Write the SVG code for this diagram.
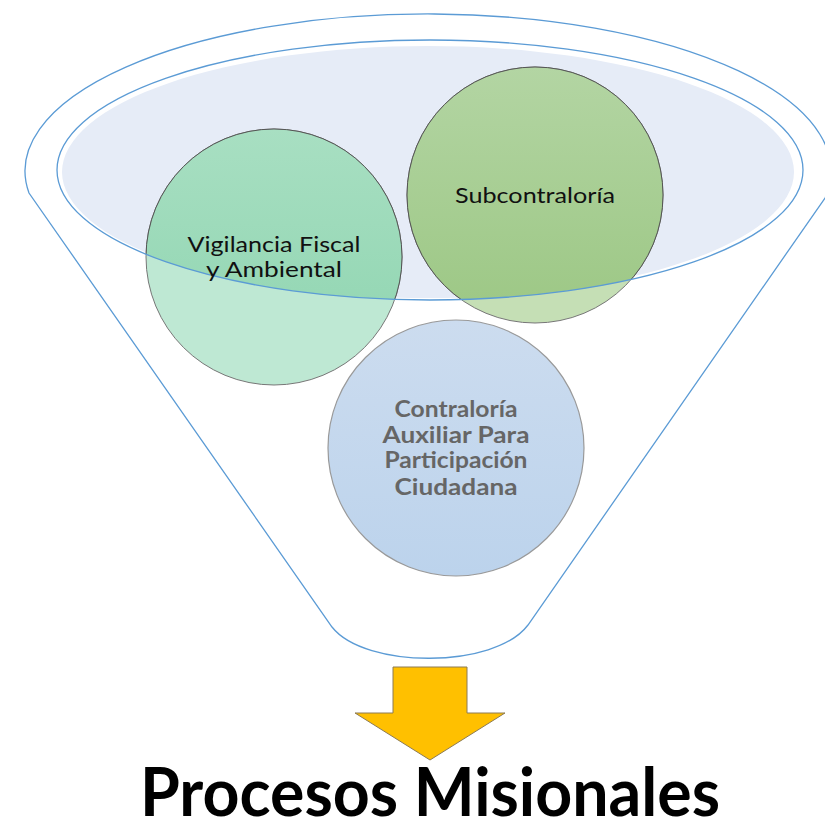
<svg xmlns="http://www.w3.org/2000/svg" width="825" height="829" viewBox="0 0 825 829">
  <style>
    .funnel { fill: none; stroke: #5B9BD5; stroke-width: 1.3; }
    .lbl { font-family: Lato, "Open Sans", "Liberation Sans", sans-serif; font-size: 22px; text-anchor: middle; }
    .dark { fill: #111; }
    .gray { fill: #666; font-weight: bold; }
    .title { font-family: Lato, "Open Sans", "Liberation Sans", sans-serif; font-size: 66px; font-weight: bold; fill: #000; }
  </style>
  <defs>
    <clipPath id="inner">
      <ellipse cx="430" cy="170" rx="373" ry="130"/>
    </clipPath>
    <linearGradient id="gLeft" x1="0" y1="0" x2="0" y2="1">
      <stop offset="0" stop-color="#A8DFC2"/>
      <stop offset="1" stop-color="#8DD4AF"/>
    </linearGradient>
    <linearGradient id="gSub" x1="0" y1="0" x2="0" y2="1">
      <stop offset="0" stop-color="#B3D5A3"/>
      <stop offset="1" stop-color="#9CC784"/>
    </linearGradient>
    <linearGradient id="gBlue" x1="0" y1="0" x2="0" y2="1">
      <stop offset="0" stop-color="#CCDCEF"/>
      <stop offset="1" stop-color="#BCD3EC"/>
    </linearGradient>
  </defs>

  <g id="funnel">
    <path class="funnel" d="M 29 193 A 403 157 0 1 1 825 198 L 528 625 C 495 669 365 669 332 627 Z"/>
    <ellipse cx="428" cy="172" rx="366" ry="126" fill="#E6ECF7"/>
  </g>

  <g id="node-vigilancia">
    <circle cx="274" cy="257" r="128" fill="#BEE8D3" stroke="#777" stroke-width="1"/>
    <circle cx="274" cy="257" r="128" fill="url(#gLeft)" stroke="#555" stroke-width="1" clip-path="url(#inner)"/>
  </g>
  <g id="node-subcontraloria">
    <circle cx="535" cy="195" r="128" fill="#C5DFB5" stroke="#777" stroke-width="1"/>
    <circle cx="535" cy="195" r="128" fill="url(#gSub)" stroke="#555" stroke-width="1" clip-path="url(#inner)"/>
  </g>
  <g id="node-contraloria-auxiliar">
    <circle cx="456" cy="448" r="128" fill="url(#gBlue)" stroke="#999" stroke-width="1.2"/>
  </g>

  <g id="inner-rim">
    <ellipse class="funnel" cx="430" cy="170" rx="373" ry="130"/>
  </g>

  <g id="labels">
    <text class="lbl dark" x="274" y="252" textLength="173" lengthAdjust="spacingAndGlyphs">Vigilancia Fiscal</text>
    <text class="lbl dark" x="274" y="277" textLength="136" lengthAdjust="spacingAndGlyphs">y Ambiental</text>
    <text class="lbl dark" x="535" y="203" textLength="160" lengthAdjust="spacingAndGlyphs">Subcontraloría</text>
    <text class="lbl gray" x="456" y="417" textLength="123" lengthAdjust="spacingAndGlyphs">Contraloría</text>
    <text class="lbl gray" x="456" y="443" textLength="147" lengthAdjust="spacingAndGlyphs">Auxiliar Para</text>
    <text class="lbl gray" x="456" y="468" textLength="143" lengthAdjust="spacingAndGlyphs">Participación</text>
    <text class="lbl gray" x="456" y="495" textLength="123" lengthAdjust="spacingAndGlyphs">Ciudadana</text>
  </g>

  <g id="connectors">
    <polygon points="393,667 467,667 467,713 505,713 430,760 355,713 393,713" fill="#FFC000" stroke="#8C7B55" stroke-width="1"/>
  </g>

  <g id="node-title">
    <text class="title" x="140" y="816" textLength="580" lengthAdjust="spacingAndGlyphs">Procesos Misionales</text>
  </g>
</svg>
